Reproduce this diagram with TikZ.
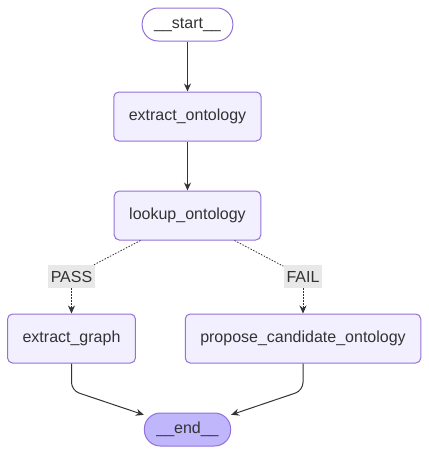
\documentclass[tikz,border=0pt]{standalone}
\usepackage{fontspec}
\setmainfont{Liberation Sans}
\usetikzlibrary{arrows.meta}
\definecolor{nodefill}{HTML}{F2F0FF}
\definecolor{nodeline}{HTML}{9370DB}
\definecolor{endfill}{HTML}{BFB6FC}
\definecolor{ink}{HTML}{333333}
\definecolor{labelfill}{HTML}{E8E8E8}
\tikzset{
	box/.style={draw=nodeline, fill=nodefill, line width=1pt, rounded corners=5pt, minimum height=49pt, inner xsep=15pt, text=ink, font=\fontsize{16}{19}\selectfont},
	pill/.style={box, rounded corners=16pt, minimum height=33pt, inner xsep=12pt},
	cond/.style={fill=labelfill, text=ink, inner xsep=3pt, inner ysep=0pt, minimum height=23pt, font=\fontsize{16}{19}\selectfont},
	edge/.style={draw=ink, line width=1pt, -{Stealth[length=8pt,width=7pt]}},
	maybe/.style={edge, line width=0.8pt, dash pattern=on 1.5pt off 1.5pt}
}
\begin{document}
\begin{tikzpicture}[x=1pt, y=-1pt]
		\useasboundingbox (0,0) rectangle (429,456);

		\node [pill, fill=white] (start) at (187.5,24.5) {\_\_start\_\_};
		\node [box] (extract) at (187.5,116.5) {extract\_ontology};
		\node [box] (lookup) at (187.5,215.5) {lookup\_ontology};
		\node [cond] (pass) at (71.5,276.5) {PASS};
		\node [cond] (fail) at (303,276.5) {FAIL};
		\node [box] (graph) at (71.5,338.5) {extract\_graph};
		\node [box] (propose) at (303,338.5) {propose\_candidate\_ontology};
		\node [pill, fill=endfill] (end) at (187.5,429.5) {\_\_end\_\_};

		\draw [edge] (start) -- (extract);
		\draw [edge] (extract) -- (lookup);
		\draw [maybe, -] ([xshift=-47pt]lookup.south) -- (pass);
		\draw [maybe] (pass) -- (graph);
		\draw [maybe, -] ([xshift=47pt]lookup.south) -- (fail);
		\draw [maybe] (fail) -- (propose);
		\draw [edge, rounded corners=8pt] (graph.south) -- ++(0,27) -- (end);
		\draw [edge, rounded corners=8pt] (propose.south) -- ++(0,27) -- (end);
	\end{tikzpicture}
\end{document}
